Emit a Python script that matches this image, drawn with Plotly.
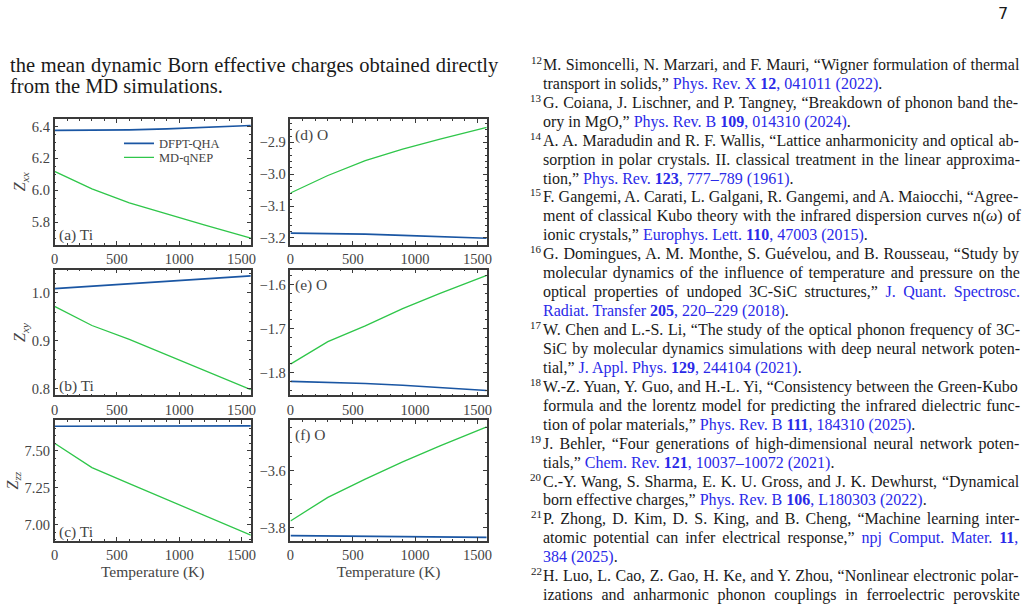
import glob
import re
import struct

import plotly.graph_objects as go

W, H = 1030, 610

# ---------------- data ----------------
temperature = [0, 300, 600, 900, 1200, 1575]

zxx_ti_dfpt = [6.375, 6.376, 6.379, 6.385, 6.393, 6.406]
zxx_ti_md = [6.119, 6.009, 5.922, 5.851, 5.783, 5.700]
zxy_ti_dfpt = [1.009, 1.014, 1.019, 1.024, 1.030, 1.036]
zxy_ti_md = [0.972, 0.932, 0.903, 0.871, 0.839, 0.798]
zzz_ti_dfpt = [7.665, 7.665, 7.666, 7.666, 7.666, 7.667]
zzz_ti_md = [7.550, 7.386, 7.278, 7.171, 7.062, 6.930]

zxx_o_dfpt = [-3.185, -3.186, -3.188, -3.192, -3.196, -3.201]
zxx_o_md = [-3.059, -3.004, -2.957, -2.921, -2.890, -2.853]
zxy_o_dfpt = [-1.820, -1.822, -1.825, -1.829, -1.834, -1.841]
zxy_o_md = [-1.781, -1.730, -1.694, -1.655, -1.620, -1.579]
zzz_o_dfpt = [-3.829, -3.830, -3.831, -3.832, -3.833, -3.835]
zzz_o_md = [-3.777, -3.694, -3.630, -3.569, -3.513, -3.446]

series_names = ["DFPT-QHA", "MD-qNEP"]
panel_labels = ["(a) Ti", "(d) O", "(b) Ti", "(e) O", "(c) Ti", "(f) O"]
y_titles = ["<i>Z</i><sub><i>xx</i></sub>", "", "<i>Z</i><sub><i>xy</i></sub>", "",
            "<i>Z</i><sub><i>zz</i></sub>", ""]
x_ticks = [0, 500, 1000, 1500]
x_title = "Temperature (K)"

paragraph_lines = [
    "the mean dynamic Born effective charges obtained directly",
    "from the MD simulations.",
]

L0 = "<span style='color:#2a2ae8'>"
L1 = "</span>"
references = [
    ("12", ["M. Simoncelli, N. Marzari, and F. Mauri, “Wigner formulation of thermal",
            "transport in solids,” " + L0 + "Phys. Rev. X <b>12</b>, 041011 (2022)" + L1 + "."]),
    ("13", ["G. Coiana, J. Lischner, and P. Tangney, “Breakdown of phonon band the-",
            "ory in MgO,” " + L0 + "Phys. Rev. B <b>109</b>, 014310 (2024)" + L1 + "."]),
    ("14", ["A. A. Maradudin and R. F. Wallis, “Lattice anharmonicity and optical ab-",
            "sorption in polar crystals. II. classical treatment in the linear approxima-",
            "tion,” " + L0 + "Phys. Rev. <b>123</b>, 777–789 (1961)" + L1 + "."]),
    ("15", ["F. Gangemi, A. Carati, L. Galgani, R. Gangemi, and A. Maiocchi, “Agree-",
            "ment of classical Kubo theory with the infrared dispersion curves n(<i>ω</i>) of",
            "ionic crystals,” " + L0 + "Europhys. Lett. <b>110</b>, 47003 (2015)" + L1 + "."]),
    ("16", ["G. Domingues, A. M. Monthe, S. Guévelou, and B. Rousseau, “Study by",
            "molecular dynamics of the influence of temperature and pressure on the",
            "optical properties of undoped 3C-SiC structures,” " + L0 + "J. Quant. Spectrosc." + L1,
            L0 + "Radiat. Transfer <b>205</b>, 220–229 (2018)" + L1 + "."]),
    ("17", ["W. Chen and L.-S. Li, “The study of the optical phonon frequency of 3C-",
            "SiC by molecular dynamics simulations with deep neural network poten-",
            "tial,” " + L0 + "J. Appl. Phys. <b>129</b>, 244104 (2021)" + L1 + "."]),
    ("18", ["W.-Z. Yuan, Y. Guo, and H.-L. Yi, “Consistency between the Green-Kubo",
            "formula and the lorentz model for predicting the infrared dielectric func-",
            "tion of polar materials,” " + L0 + "Phys. Rev. B <b>111</b>, 184310 (2025)" + L1 + "."]),
    ("19", ["J. Behler, “Four generations of high-dimensional neural network poten-",
            "tials,” " + L0 + "Chem. Rev. <b>121</b>, 10037–10072 (2021)" + L1 + "."]),
    ("20", ["C.-Y. Wang, S. Sharma, E. K. U. Gross, and J. K. Dewhurst, “Dynamical",
            "born effective charges,” " + L0 + "Phys. Rev. B <b>106</b>, L180303 (2022)" + L1 + "."]),
    ("21", ["P. Zhong, D. Kim, D. S. King, and B. Cheng, “Machine learning inter-",
            "atomic potential can infer electrical response,” " + L0 + "npj Comput. Mater. <b>11</b>," + L1,
            L0 + "384 (2025)" + L1 + "."]),
    ("22", ["H. Luo, L. Cao, Z. Gao, H. Ke, and Y. Zhou, “Nonlinear electronic polar-",
            "izations and anharmonic phonon couplings in ferroelectric perovskite"]),
]
page_number = "7"

# ---------------- styling ----------------
BLUE = "#1a56a3"
GREEN = "#2fc64a"
AX = "#3a3a3a"
TXT = "#444444"
FONT = "Liberation Serif"

# rough kerning corrections (fraction of em) for strongly kerned pairs
KERN = {"W.": -0.09, "W,": -0.09, "Y.": -0.1, "Y,": -0.1, "Yu": -0.11, "Yi": -0.055,
        "Yo": -0.1, "Ye": -0.1, "P.": -0.11, "P,": -0.11, "F.": -0.08, "F,": -0.08,
        "V.": -0.13, "T.": -0.074, "To": -0.08, "Te": -0.07, "Ta": -0.07, "Wa": -0.08}


# ---------- simple TrueType advance-width reader (for justified text) ----------
def load_metrics(pattern):
    try:
        paths = glob.glob("/usr/share/fonts/**/" + pattern, recursive=True)
        if not paths:
            return None
        data = open(paths[0], "rb").read()
        ntab = struct.unpack(">H", data[4:6])[0]
        tabs = {}
        for i in range(ntab):
            tag, _, off, ln = struct.unpack(">4sIII", data[12 + 16 * i:28 + 16 * i])
            tabs[tag.decode("latin-1")] = off
        upem = struct.unpack(">H", data[tabs["head"] + 18:tabs["head"] + 20])[0]
        nhm = struct.unpack(">H", data[tabs["hhea"] + 34:tabs["hhea"] + 36])[0]
        hm = tabs["hmtx"]
        adv = [struct.unpack(">H", data[hm + 4 * i:hm + 4 * i + 2])[0] for i in range(nhm)]
        cm = tabs["cmap"]
        nsub = struct.unpack(">H", data[cm + 2:cm + 4])[0]
        sub = None
        for i in range(nsub):
            plat, enc, off = struct.unpack(">HHI", data[cm + 4 + 8 * i:cm + 12 + 8 * i])
            if plat == 3 and enc == 1:
                sub = cm + off
        if sub is None or struct.unpack(">H", data[sub:sub + 2])[0] != 4:
            return None
        segx2 = struct.unpack(">H", data[sub + 6:sub + 8])[0]
        seg = segx2 // 2
        ends = struct.unpack(">%dH" % seg, data[sub + 14:sub + 14 + segx2])
        starts = struct.unpack(">%dH" % seg, data[sub + 16 + segx2:sub + 16 + 2 * segx2])
        deltas = struct.unpack(">%dh" % seg, data[sub + 16 + 2 * segx2:sub + 16 + 3 * segx2])
        rbase = sub + 16 + 3 * segx2
        roffs = struct.unpack(">%dH" % seg, data[rbase:rbase + segx2])

        def gid(ch):
            c = ord(ch)
            for i in range(seg):
                if ends[i] >= c:
                    if starts[i] > c:
                        return 0
                    if roffs[i] == 0:
                        return (c + deltas[i]) & 0xFFFF
                    addr = rbase + 2 * i + roffs[i] + 2 * (c - starts[i])
                    g = struct.unpack(">H", data[addr:addr + 2])[0]
                    return (g + deltas[i]) & 0xFFFF if g else 0
            return 0

        def width(text, size):
            w = sum(adv[min(gid(ch), nhm - 1)] for ch in text) / upem
            w += sum(KERN.get(text[k:k + 2], 0.0) for k in range(len(text) - 1))
            return w * size

        return width
    except Exception:
        return None


W_REG = load_metrics("LiberationSerif-Regular.ttf")
W_BOLD = load_metrics("LiberationSerif-Bold.ttf") or W_REG


def justify(line, size, target):
    if W_REG is None:
        return line
    total, bold = 0.0, False
    for part in re.split(r"(<[^>]+>)", line):
        if part.startswith("<"):
            if part.lower() == "<b>":
                bold = True
            elif part.lower() == "</b>":
                bold = False
            continue
        total += (W_BOLD if bold else W_REG)(part, size)
    plain = re.sub(r"<[^>]+>", "", line)
    n = plain.count(" ")
    if n == 0:
        return line
    ws = (target - total) / n
    ws = max(min(ws, 14.0), -1.5)
    return "<span style='word-spacing:%.2fpx'>%s</span>" % (ws, line)


def px(x):
    return x / W


def py(y):
    return 1 - y / H


col_px = [(51, 249), (289, 487)]
row_px = [(119, 245), (270, 396), (421, 542)]

panels = [
    (zxx_ti_dfpt, zxx_ti_md, [5.66, 6.448], 0.2, 5.8, 0.05, ".1f"),
    (zxx_o_dfpt, zxx_o_md, [-3.221, -2.826], 0.1, -3.2, 0.02, ".1f"),
    (zxy_ti_dfpt, zxy_ti_md, [0.786, 1.049], 0.1, 0.8, 0.02, ".1f"),
    (zxy_o_dfpt, zxy_o_md, [-1.852, -1.566], 0.1, -1.8, 0.02, ".1f"),
    (zzz_ti_dfpt, zzz_ti_md, [6.89, 7.705], 0.25, 7.0, 0.05, ".2f"),
    (zzz_o_dfpt, zzz_o_md, [-3.848, -3.423], 0.2, -3.8, 0.05, ".1f"),
]

fig = go.Figure()
layout = dict(
    width=W, height=H, margin=dict(l=0, r=0, t=0, b=0),
    paper_bgcolor="white", plot_bgcolor="white",
    font=dict(family=FONT, color=TXT),
)
annotations = []

for i, (blue, green, yr, dt, t0, mdt, fmt) in enumerate(panels):
    r, c = divmod(i, 2)
    n = "" if i == 0 else str(i + 1)
    xa, ya = "x" + n, "y" + n
    x0, x1 = col_px[c]
    y0, y1 = row_px[r]
    common = dict(
        showline=True, linecolor=AX, linewidth=1.5, mirror="allticks",
        ticks="inside", ticklen=4, tickwidth=1, tickcolor=AX,
        showgrid=False, zeroline=False,
        tickfont=dict(family=FONT, size=14.5, color=TXT),
    )
    layout["xaxis" + n] = dict(
        common, domain=[px(x0), px(x1)], anchor=ya, range=[0, 1575],
        tickmode="array", tickvals=x_ticks,
        minor=dict(ticks="inside", ticklen=2, tickcolor=AX, dtick=100, tick0=0),
        title=dict(text=x_title if r == 2 else "", font=dict(size=15.5, color=TXT), standoff=2),
    )
    layout["yaxis" + n] = dict(
        common, domain=[py(y1), py(y0)], anchor=xa, range=yr,
        dtick=dt, tick0=t0, tickformat=fmt,
        minor=dict(ticks="inside", ticklen=2, tickcolor=AX, dtick=mdt, tick0=t0),
        title=dict(text=y_titles[i], font=dict(size=16, color=TXT), standoff=2),
    )
    fig.add_trace(go.Scatter(
        x=temperature, y=blue, xaxis=xa, yaxis=ya, mode="lines",
        line=dict(color=BLUE, width=1.7), name=series_names[0],
        showlegend=(i == 0), legend="legend",
    ))
    fig.add_trace(go.Scatter(
        x=temperature, y=green, xaxis=xa, yaxis=ya, mode="lines",
        line=dict(color=GREEN, width=1.3), name=series_names[1],
        showlegend=(i == 0), legend="legend2",
    ))
    ypos = 0.075 if c == 0 else 0.875
    annotations.append(dict(
        text=panel_labels[i], xref=xa + " domain", yref=ya + " domain",
        x=0.012, y=ypos, xanchor="left", yanchor="middle", showarrow=False,
        font=dict(family=FONT, size=15.5, color=TXT),
    ))

leg_common = dict(xanchor="left", yanchor="middle", bgcolor="rgba(0,0,0,0)",
                  borderwidth=0, font=dict(family=FONT, size=12.5, color=TXT))
layout["legend"] = dict(leg_common, x=px(116), y=py(144))
layout["legend2"] = dict(leg_common, x=px(116), y=py(158))

# page text: paragraph (left column)
PARA_SIZE = 20.5
for k, line in enumerate(paragraph_lines):
    txt = justify(line, PARA_SIZE, 489) if k < len(paragraph_lines) - 1 else line
    annotations.append(dict(
        text=txt, xref="paper", yref="paper", x=px(4), y=py(66 + 20 * k),
        xanchor="left", yanchor="middle", showarrow=False,
        font=dict(family=FONT, size=PARA_SIZE, color="#1a1a1a"),
    ))

# references (right column)
REF_SIZE = 16
line_idx = 0
for num, lines in references:
    for j, line in enumerate(lines):
        yc = 65 + 18.97 * line_idx
        if j == 0:
            annotations.append(dict(
                text=num, xref="paper", yref="paper", x=px(545), y=py(yc - 5),
                xanchor="right", yanchor="middle", showarrow=False,
                font=dict(family=FONT, size=11, color="#1a1a1a"),
            ))
        last = (j == len(lines) - 1) and num != "22"
        txt = line if last else justify(line, REF_SIZE, 477)
        annotations.append(dict(
            text=txt, xref="paper", yref="paper", x=px(542), y=py(yc),
            xanchor="left", yanchor="middle", showarrow=False,
            font=dict(family=FONT, size=REF_SIZE, color="#1a1a1a"),
        ))
        line_idx += 1

annotations.append(dict(
    text=page_number, xref="paper", yref="paper", x=px(1008), y=py(14),
    xanchor="center", yanchor="middle", showarrow=False,
    font=dict(family="DejaVu Sans", size=16, color="#1a1a1a"),
))

layout["annotations"] = annotations
fig.update_layout(**layout)
fig.write_html("out.html")
